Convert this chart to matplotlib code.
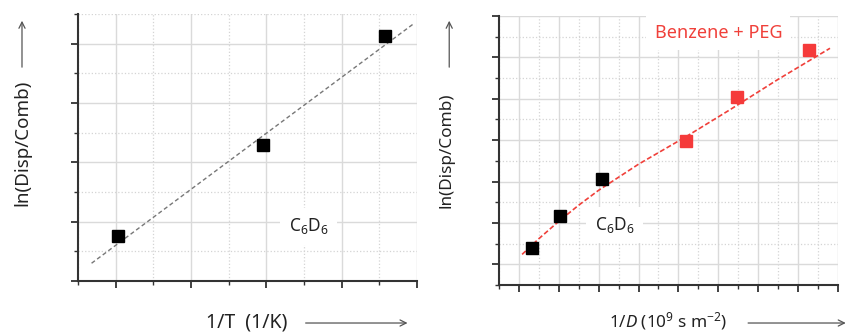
import matplotlib
matplotlib.use("Agg")
import matplotlib.pyplot as plt
from matplotlib.ticker import MultipleLocator, NullFormatter

plt.rcParams['font.family'] = ['Noto Sans', 'DejaVu Sans']
plt.rcParams['mathtext.fontset'] = 'custom'
plt.rcParams['mathtext.rm'] = 'Noto Sans'
plt.rcParams['mathtext.it'] = 'Noto Sans:italic'

# Dane: lewy panel (1/T)
lewy_x = [0.03, 1.96, 3.57]
lewy_y = [0.76, 2.30, 4.13]
lewy_fit_x = [-0.32, 3.96]
lewy_fit_y = [0.30, 4.34]

# Dane: prawy panel (1/D)
c6d6_x = [0.33, 1.03, 2.08]
c6d6_y = [0.39, 1.17, 2.06]
peg_x = [4.20, 5.48, 7.28]
peg_y = [2.99, 4.05, 5.17]
krzywa_x = [0.08, 0.5, 1.0, 1.5, 2.0, 3.0, 4.2, 5.3, 6.5, 7.8]
krzywa_y = [0.24, 0.62, 1.04, 1.43, 1.79, 2.42, 3.09, 3.74, 4.47, 5.22]

CZERWONY = '#f0403a'
SZARY_OSI = '#333333'

fig = plt.figure(figsize=(8.46, 3.33), dpi=100)
ax1 = fig.add_axes([0.0922, 0.156, 0.4007, 0.802])
ax2 = fig.add_axes([0.5898, 0.144, 0.4007, 0.808])


def styl_osi(ax, xlim, ylim):
    ax.set_xlim(*xlim)
    ax.set_ylim(*ylim)
    ax.xaxis.set_major_locator(MultipleLocator(1))
    ax.xaxis.set_minor_locator(MultipleLocator(0.5))
    ax.yaxis.set_major_locator(MultipleLocator(1))
    ax.yaxis.set_minor_locator(MultipleLocator(0.5))
    ax.xaxis.set_major_formatter(NullFormatter())
    ax.yaxis.set_major_formatter(NullFormatter())
    ax.grid(which='major', color='#dadada', linestyle='-', linewidth=1.0)
    ax.grid(which='minor', color='#d4d4d4', linestyle=':', linewidth=0.9)
    ax.set_axisbelow(True)
    for s in ['top', 'right']:
        ax.spines[s].set_visible(False)
    for s in ['left', 'bottom']:
        ax.spines[s].set_color(SZARY_OSI)
        ax.spines[s].set_linewidth(1.5)
    ax.tick_params(which='major', direction='out', length=5, width=1.3, color=SZARY_OSI)
    ax.tick_params(which='minor', direction='out', length=3, width=1.0, color=SZARY_OSI)


# ===== Lewy panel =====
styl_osi(ax1, (-0.5, 4.0), (0, 4.5))
ax1.plot(lewy_fit_x, lewy_fit_y, color='#777777', linestyle=(0, (3, 2)), linewidth=1.0)
ax1.plot(lewy_x, lewy_y, 's', color='black', markersize=8, clip_on=False)
ax1.text(2.56, 0.92, 'C$_6$D$_6$', fontsize=12.5, ha='center', va='center', color='#222222',
         bbox=dict(facecolor='white', edgecolor='none', pad=6))

# ===== Prawy panel =====
styl_osi(ax2, (-0.5, 8.0), (-0.5, 6.0))
ax2.plot(krzywa_x, krzywa_y, color=CZERWONY, linestyle=(0, (3, 1.5)), linewidth=1.2)
ax2.plot(c6d6_x, c6d6_y, 's', color='black', markersize=8.5)
ax2.plot(peg_x, peg_y, 's', color='#f53a3a', markersize=8.5)
ax2.text(2.4, 0.95, 'C$_6$D$_6$', fontsize=12.5, ha='center', va='center', color='#222222',
         bbox=dict(facecolor='white', edgecolor='none', pad=6))
ax2.text(5.0, 5.6, 'Benzene + PEG', fontsize=13, color=CZERWONY, ha='center', va='center',
         bbox=dict(facecolor='white', edgecolor='none', pad=6))

# Opisy osi i strzałki
strzalka = dict(arrowstyle='->', color='#555555', lw=0.9, mutation_scale=11)


def strzalka_fig(od, do):
    ax1.annotate('', xy=do, xytext=od, xycoords='figure fraction',
                 textcoords='figure fraction', arrowprops=strzalka, annotation_clip=False)


fig.text(0.292, 0.032, '1/T  (1/K)', fontsize=14, ha='center', va='center', color='#222222')
fig.text(0.026, 0.571, 'ln(Disp/Comb)', fontsize=13.5, rotation=90, ha='center', va='center', color='#222222')
strzalka_fig((0.358, 0.030), (0.485, 0.030))
strzalka_fig((0.026, 0.790), (0.026, 0.946))

fig.text(0.790, 0.036, '1/$\\mathit{D}$ (10$^{9}$ s m$^{-2}$)', fontsize=12.3, ha='center', va='center', color='#222222')
fig.text(0.528, 0.550, 'ln(Disp/Comb)', fontsize=12.3, rotation=90, ha='center', va='center', color='#222222')
strzalka_fig((0.881, 0.030), (1.003, 0.030))
strzalka_fig((0.531, 0.790), (0.531, 0.946))

fig.savefig('out.png', dpi=100)
